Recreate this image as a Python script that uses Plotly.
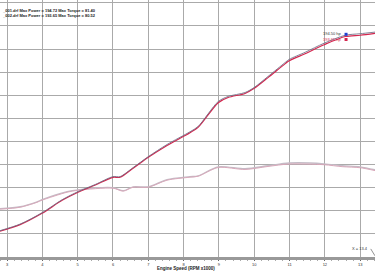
import plotly.graph_objects as go

# Engine speed (RPM x1000)
rpm = [2.80, 3.37, 3.99, 4.56, 5.01, 5.50, 6.00, 6.20, 6.57, 7.00, 7.53, 8.18, 8.41,
       8.98, 9.26, 9.74, 10.00, 10.39, 10.88, 10.99, 11.44, 11.98, 12.58, 13.00, 13.42]
power_001 = [22.8, 28.5, 38.3, 49.6, 56.6, 62.8, 69.6, 69.6, 77.4, 86.9, 97.4, 108.4, 113.0,
             134.6, 139.0, 142.4, 146.8, 156.3, 168.5, 171.1, 177.2, 185.1, 192.0, 193.3, 194.7]
power_002 = [22.4, 28.0, 37.8, 49.1, 56.1, 62.3, 69.0, 69.0, 76.8, 86.3, 96.6, 107.6, 112.2,
             133.6, 138.1, 141.6, 146.0, 155.3, 167.4, 169.9, 176.0, 183.8, 190.9, 192.0, 193.6]

rpm_t = [2.80, 3.37, 3.85, 3.99, 4.70, 5.01, 6.00, 6.29, 6.57, 7.00, 7.53, 8.18, 8.41,
         8.98, 9.74, 10.39, 10.99, 11.98, 12.49, 13.00, 13.42]
torque_001 = [41.8, 43.5, 47.8, 49.6, 56.5, 58.2, 60.0, 57.4, 60.8, 60.8, 66.9, 69.5, 70.3,
              78.1, 76.4, 79.0, 81.4, 80.7, 79.0, 78.1, 75.5]
torque_002 = [41.4, 43.1, 47.4, 49.2, 56.1, 57.8, 59.6, 57.0, 60.4, 60.4, 66.5, 69.1, 69.9,
              77.5, 75.8, 78.4, 80.5, 79.9, 78.2, 77.3, 74.8]

x_ticks = [3, 4, 5, 6, 7, 8, 9, 10, 11, 12, 13]
header_lines = [
    "_001.drf Max Power = 194.72 Max Torque = 81.40",
    "_002.drf Max Power = 193.65 Max Torque = 80.52",
]
cursor_x = 13.4

c1 = "#6f6c84"
c2 = "#d4264e"
ct1 = "#c4bcc6"
ct2 = "#d9a8ba"

fig = go.Figure()
fig.add_trace(go.Scatter(x=rpm_t, y=torque_001, mode="lines", line=dict(color=ct1, width=1.3, shape="spline", smoothing=0.8)))
fig.add_trace(go.Scatter(x=rpm_t, y=torque_002, mode="lines", line=dict(color=ct2, width=1, shape="spline", smoothing=0.8)))
fig.add_trace(go.Scatter(x=rpm, y=power_002, mode="lines", line=dict(color=c2, width=1.2, shape="spline", smoothing=0.8)))
fig.add_trace(go.Scatter(x=rpm, y=power_001, mode="lines", line=dict(color=c1, width=1.0, shape="spline", smoothing=0.8), opacity=0.85))
fig.add_trace(go.Scatter(x=[rpm[-3] + 0.02], y=[power_001[-3] + 0.8], mode="markers",
                         marker=dict(color="#1f3fd0", size=3, symbol="square")))
fig.add_trace(go.Scatter(x=[rpm[-3] + 0.02], y=[power_002[-3] - 2.6], mode="markers",
                         marker=dict(color=c2, size=3, symbol="square")))

fig.add_annotation(x=rpm[-3] - 0.05, y=power_001[-3] + 1.5, text="194.50 hp", showarrow=False,
                   xanchor="right", yanchor="middle", font=dict(size=4, color="#333", family="Liberation Sans"))
fig.add_annotation(x=rpm[-3] - 0.05, y=power_002[-3] - 2.5, text="193.65 hp", showarrow=False,
                   xanchor="right", yanchor="middle", font=dict(size=4, color=c2, family="Liberation Sans"))

for i, t in enumerate(header_lines):
    fig.add_annotation(x=0, y=1 - (0.042 + 0.02 * i), xref="paper", yref="paper", text="<b>" + t + "</b>",
                       showarrow=False, xanchor="left", yanchor="middle",
                       font=dict(size=4, color="#222", family="Liberation Sans"))

fig.add_annotation(x=cursor_x - 0.12, y=7, text="X = " + str(cursor_x), showarrow=False,
                   xanchor="right", yanchor="middle", font=dict(size=4, color="#333", family="Liberation Sans"))
fig.add_shape(type="line", x0=cursor_x - 0.1, x1=cursor_x + 0.02, y0=7, y1=1,
              line=dict(color="#777", width=0.8))

fig.add_annotation(x=0.495, y=-0.044, xref="paper", yref="paper", text="<b>Engine Speed (RPM x1000)</b>",
                   showarrow=False, xanchor="center", yanchor="middle",
                   font=dict(size=4.5, color="#222", family="Liberation Sans"))

fig.update_layout(
    width=375, height=273,
    margin=dict(l=0, r=0, t=0, b=16),
    paper_bgcolor="white", plot_bgcolor="white",
    showlegend=False,
    xaxis=dict(range=[2.8, 13.42], tickvals=x_ticks, ticktext=[str(v) for v in x_ticks],
               showgrid=True, gridcolor="#aaaaaa", gridwidth=1,
               showline=True, linecolor="#999", linewidth=3,
               ticks="outside", ticklen=1, tickcolor="#666",
               tickfont=dict(size=4, color="#333", family="Liberation Sans"),
               minor=dict(ticks="outside", dtick=0.2, ticklen=1, tickcolor="#aaa"),
               zeroline=False, fixedrange=True),
    yaxis=dict(range=[0, 222.5], dtick=20, showgrid=True, gridcolor="#aaaaaa", gridwidth=1,
               showticklabels=False, zeroline=False, showline=False, fixedrange=True),
)

fig.write_html("out.html")
